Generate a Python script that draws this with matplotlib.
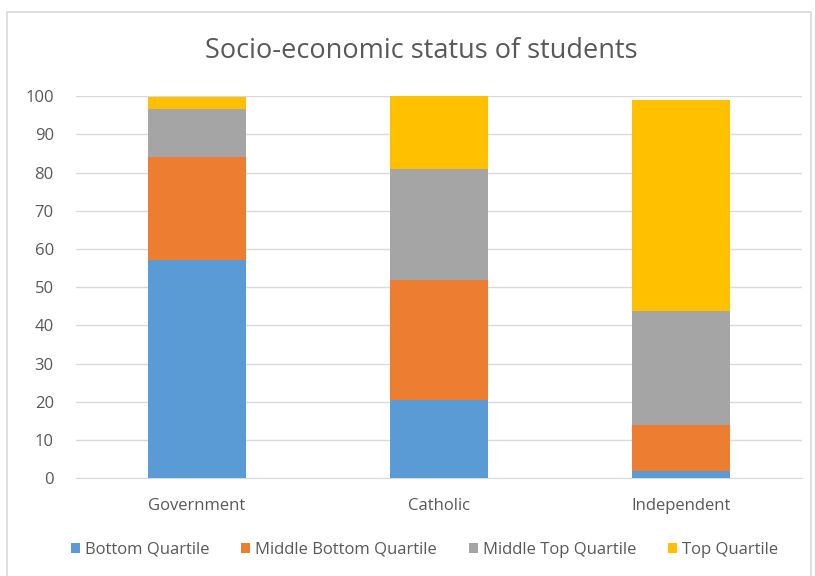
import matplotlib.pyplot as plt
import numpy as np
from matplotlib.patches import Rectangle

# Data
categories = ["Government", "Catholic", "Independent"]
bottom_q = [57.2, 20.5, 1.9]
mid_bottom_q = [26.9, 31.4, 12.0]
mid_top_q = [12.5, 29.0, 29.9]
top_q = [3.1, 19.1, 55.2]

series_names = ["Bottom Quartile", "Middle Bottom Quartile",
                "Middle Top Quartile", "Top Quartile"]
colors = ["#5b9bd5", "#ed7d31", "#a5a5a5", "#ffc000"]

plt.rcParams["font.family"] = ["Open Sans", "DejaVu Sans"]

fig = plt.figure(figsize=(8.15, 5.76), dpi=100)
ax = fig.add_axes([0.0933, 0.170, 0.891, 0.663])

# Chart border
fig.patches.append(Rectangle((7 / 815, -0.01), 804 / 815, 1 - 12 / 576 + 0.01,
                             transform=fig.transFigure, fill=False,
                             edgecolor="#d9d9d9", linewidth=1.2))

x = np.arange(len(categories))
bottom = np.zeros(len(categories))
for vals, name, col in zip([bottom_q, mid_bottom_q, mid_top_q, top_q],
                           series_names, colors):
    ax.bar(x, vals, width=0.405, bottom=bottom, color=col, label=name, zorder=3)
    bottom += np.array(vals)

ax.set_xlim(-0.5, len(categories) - 0.5)
ax.set_ylim(0, 100)
ax.set_yticks(range(0, 101, 10))
ax.set_xticks(x)
ax.set_xticklabels(categories)
ax.grid(axis="y", color="#d9d9d9", linewidth=1, zorder=0)
for s in ["top", "right", "left"]:
    ax.spines[s].set_visible(False)
ax.spines["bottom"].set_color("#d9d9d9")
ax.tick_params(axis="both", length=0, labelcolor="#595959", labelsize=12)
ax.tick_params(axis="x", pad=14)
ax.tick_params(axis="y", pad=16)

fig.text(0.517, 0.912, "Socio-economic status of students", ha="center",
         va="center", fontsize=19.5, color="#595959")

leg = fig.legend(loc="center", bbox_to_anchor=(0.521, 0.046), ncol=4,
                 frameon=False, fontsize=12, handlelength=0.55,
                 handleheight=0.55, handletextpad=0.3, columnspacing=1.9)
for t in leg.get_texts():
    t.set_color("#595959")

fig.savefig("out.png", dpi=100)
